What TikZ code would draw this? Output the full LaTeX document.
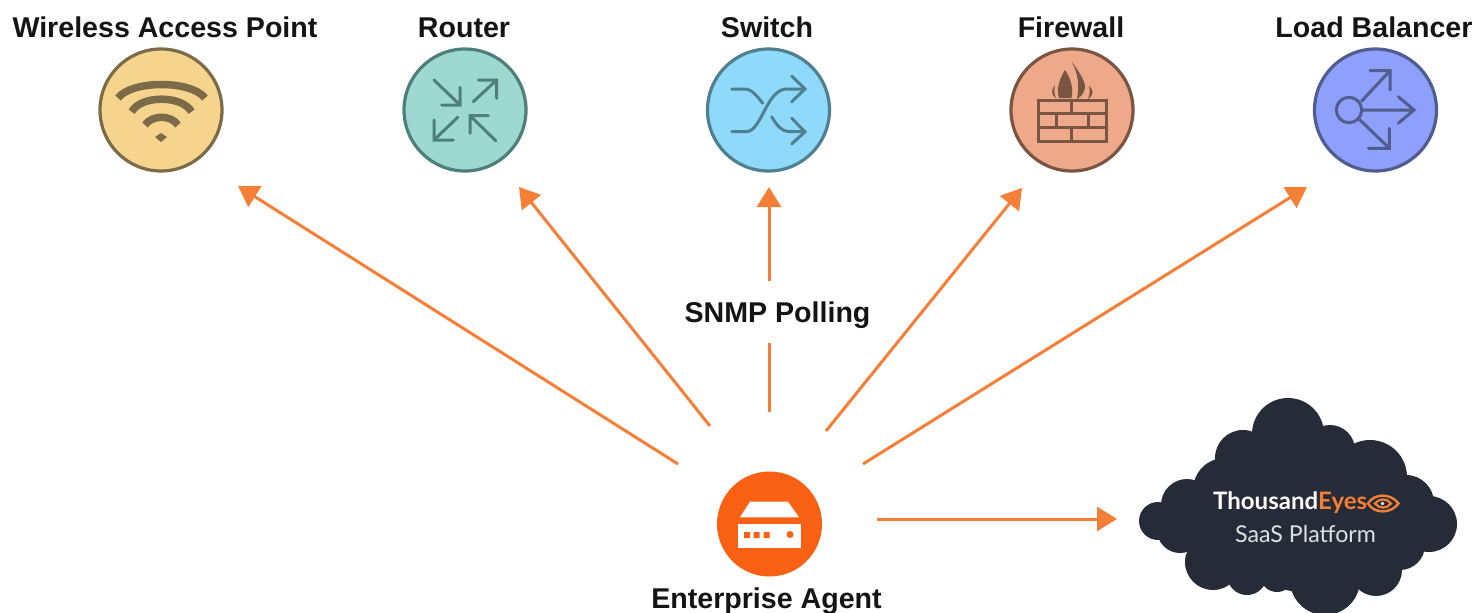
\documentclass[tikz,border=0pt]{standalone}
\usepackage{fontspec}
\setmainfont{Liberation Sans}
\newfontfamily\logofont{Lato}
\usetikzlibrary{arrows.meta}
\definecolor{arrowc}{HTML}{F57F36}
\definecolor{agentc}{HTML}{F86114}
\definecolor{cloudc}{HTML}{252C38}
\definecolor{wapf}{HTML}{F6D48E}\definecolor{wapd}{HTML}{7B6B47}
\definecolor{rtf}{HTML}{9DD9D0}\definecolor{rtd}{HTML}{4E807A}
\definecolor{swf}{HTML}{8FDAFA}\definecolor{swd}{HTML}{50808F}
\definecolor{fwf}{HTML}{EDA98A}\definecolor{fwd}{HTML}{7A5642}
\definecolor{lbf}{HTML}{8F9FFC}\definecolor{lbd}{HTML}{505D8F}
\tikzset{
  device/.style={circle,minimum size=122pt,inner sep=0pt,outer sep=0pt,line width=3.2pt},
  title/.style={font=\fontsize{28.6}{30}\selectfont\bfseries,inner sep=0pt,text=black!92,anchor=base},
  link/.style={draw=arrowc,line width=3pt,-{Triangle[length=20pt,width=24pt]}},
  glyph/.style={line width=3pt,line join=miter,line cap=round},
  puff/.style={fill=cloudc,draw=none},
}
\begin{document}
\begin{tikzpicture}[x=1pt,y=-1pt]
\useasboundingbox (0,0) rectangle (1478,613);
% devices
\node[device,draw=wapd,fill=wapf] (wap) at (161,110) {};
\node[device,draw=rtd,fill=rtf] (router) at (465,110) {};
\node[device,draw=swd,fill=swf] (switch) at (768.5,110) {};
\node[device,draw=fwd,fill=fwf] (firewall) at (1072,110) {};
\node[device,draw=lbd,fill=lbf] (lb) at (1375.5,110) {};
\node[title] (wapt) at (165,37) {Wireless Access Point};
\node[title] (routert) at (464,37) {Router};
\node[title] (switcht) at (767,37) {Switch};
\node[title] (firewallt) at (1071,37) {Firewall};
\node[title] (lbt) at (1374,37) {Load Balancer};
% wifi
\begin{scope}[wapd,line width=7.5pt]
\draw (118,98) .. controls (132,80) and (191,80) .. (205,98);
\draw (131.7,111.7) .. controls (141,95) and (182,95) .. (191.5,111.7);
\draw (145,125) .. controls (152,114.7) and (171,114.7) .. (178,125);
\fill (155,137) -- (161,133) -- (167,137) -- (161,142) -- cycle;
\end{scope}
% router
\begin{scope}[rtd,glyph]
\draw (434,80) -- (460,105) (441.7,105) -- (460,105) -- (460,87.3);
\draw (473.3,101.7) -- (496.7,80) (478.3,80) -- (496.7,80) -- (496.7,98.3);
\draw (457.7,117.3) -- (434,140) (434,120) -- (434,140) -- (453.3,140);
\draw (495.7,140.7) -- (470,115.7) (488.3,115.7) -- (470,115.7) -- (470,133.3);
\end{scope}
% switch
\begin{scope}[swd,glyph]
\draw (731.7,89) -- (744,89) .. controls (752,89) and (756,95) .. (762.7,103.3);
\draw (731.7,131.7) -- (746,131.7) .. controls (762,131.7) and (766,89) .. (787,89) -- (804,89);
\draw (771.7,116.7) .. controls (776,124) and (781,131.7) .. (790,131.7) -- (804,131.7);
\draw (791.7,76) -- (805,89) -- (791.7,101.7);
\draw (791.7,118.3) -- (805,131.7) -- (791.7,144);
\end{scope}
% firewall
\begin{scope}[fwd,line width=3pt]
\draw (1038.3,100) rectangle (1106.7,141);
\draw (1038.3,113.5) -- (1106.7,113.5) (1038.3,127) -- (1106.7,127);
\draw (1071,100) -- (1071,113.5) (1056.5,113.5) -- (1056.5,127) (1088,113.5) -- (1088,127) (1071,127) -- (1071,141);
\fill (1065,70) .. controls (1060,78) and (1056,88) .. (1059,98) -- (1071.5,98) .. controls (1074,88) and (1070,77) .. (1065,70) -- cycle;
\fill (1071.5,61.5) .. controls (1078,70) and (1086,82) .. (1085,88) .. controls (1084,93) and (1081,97) .. (1077,99) .. controls (1079,88) and (1079,74) .. (1071.5,61.5) -- cycle;
\fill (1055,85) .. controls (1051,90) and (1051,95) .. (1056,98) .. controls (1054,93) and (1054,90) .. (1055,85) -- cycle;
\fill (1089,86) .. controls (1094,90) and (1094,95) .. (1088,99) .. controls (1090,94) and (1090,90) .. (1089,86) -- cycle;
\end{scope}
% load balancer
\begin{scope}[lbd,glyph]
\draw (1349,110) circle[radius=12.7];
\draw (1361.7,101) -- (1390,70.7) (1370,70.7) -- (1390,70.7) -- (1390,90);
\draw (1361.7,110) -- (1413,110) (1398.3,96.7) -- (1414,110) -- (1398.3,123.3);
\draw (1359,119) -- (1389.3,148.3) (1368.3,148.3) -- (1389.3,148.3) -- (1389.3,128.3);
\end{scope}
% agent
\node[circle,fill=agentc,minimum size=105pt,inner sep=0pt,outer sep=0pt] (agent) at (769.5,524) {};
\fill[white] (740,517.3) -- (799,517.3) -- (788,501.7) -- (750,501.7) -- cycle;
\fill[white] (737.7,524) rectangle (800.7,548.3);
\fill[agentc] (744,532) rectangle (750,538) (753.7,532) rectangle (759.7,538) (763.7,532) rectangle (769.7,538);
\fill[agentc] (790,534.5) circle[radius=3.5];
\node[title] (agentt) at (766.5,608) {Enterprise Agent};
% cloud
\begin{scope}
\foreach \cx/\cy/\cr in {1288/434/36,1243/458/28,1330/450/25,1370/477/37,1406/503/28,1429/524/28,
 1158/521/19,1187/505/26,1225/490/32,1180/530/23,1213/562/28,1247/575/20,1277/575/17,1325/580/35,1376/570/26,1400/545/25}
 {\fill[puff] (\cx,\cy) circle[radius=\cr];}
\fill[puff] (1170,520) -- (1230,470) -- (1290,440) -- (1370,470) -- (1430,520) -- (1380,580) -- (1325,600) -- (1210,570) -- cycle;
\end{scope}
\node[anchor=west,inner sep=0pt,font=\logofont\bfseries\fontsize{24}{26}\selectfont] (logo) at (1213,503) {\textcolor{white}{Thousand}\textcolor{arrowc}{Eyes}};
\begin{scope}[arrowc]
\draw[line width=2.4pt] (1368,503.5) .. controls (1374,493) and (1391,493) .. (1398.5,503.5) .. controls (1391,514) and (1374,514) .. (1368,503.5) -- cycle;
\draw[line width=2.2pt] (1375,503.5) .. controls (1379,498) and (1387,498) .. (1391,503.5) .. controls (1387,509) and (1379,509) .. (1375,503.5) -- cycle;
\fill[white] (1382.5,503.5) circle[radius=1.8];
\end{scope}
\node[inner sep=0pt,text=white!85!cloudc,font=\logofont\fontsize{23.2}{25}\selectfont] (saas) at (1305.5,534.5) {SaaS Platform};
% connector ends
\coordinate (awap) at (678,464); \coordinate (twap) at (238,186);
\coordinate (art) at (710,426); \coordinate (trt) at (519,187);
\coordinate (asw) at (769,412); \coordinate (tsw) at (769,187);
\coordinate (afw) at (826,431); \coordinate (tfw) at (1022,188);
\coordinate (alb) at (863,464); \coordinate (tlb) at (1307,187);
\coordinate (acl) at (877,519); \coordinate (tcl) at (1117,519);
\draw[link] (awap) -- (twap);
\draw[link] (art) -- (trt);
\draw[link] (asw) -- (tsw);
\draw[link] (afw) -- (tfw);
\draw[link] (alb) -- (tlb);
\draw[link] (acl) -- (tcl);
\fill[white] (680,281) rectangle (875,343);
\node[title] (snmp) at (777.5,322) {SNMP Polling};
\end{tikzpicture}
\end{document}
